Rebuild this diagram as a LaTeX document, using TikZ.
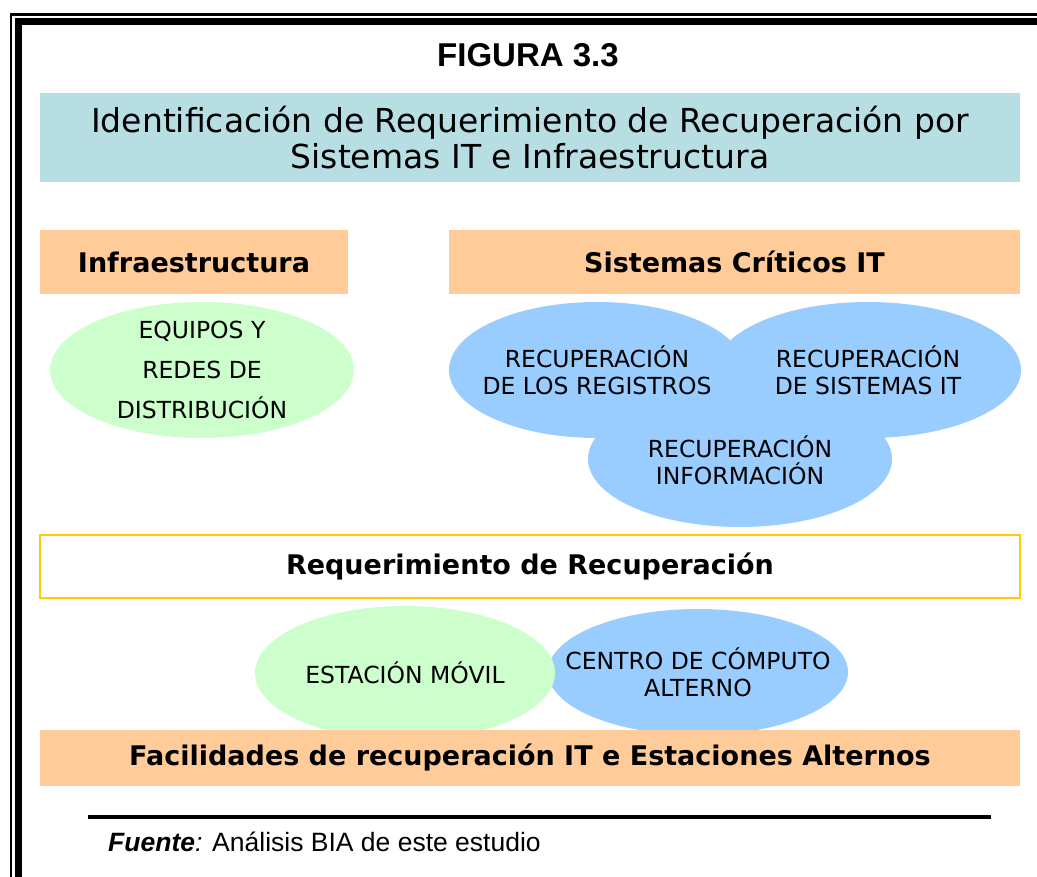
\documentclass[tikz,border=0pt]{standalone}
\usepackage{fontspec}
\setmainfont{DejaVu Sans}
\newfontfamily\arialfont{Liberation Sans}
\usetikzlibrary{shapes.geometric}
\definecolor{titlebg}{HTML}{B7DFE3}
\definecolor{peach}{HTML}{FFCC99}
\definecolor{lgreen}{HTML}{CCFFCC}
\definecolor{lblue}{HTML}{99CCFF}
\definecolor{gold}{HTML}{FFCC00}
\tikzset{
  band/.style={rectangle, inner sep=0pt, draw=none},
  hdr/.style={band, fill=peach, font=\fontsize{27}{32}\selectfont\bfseries},
  oval/.style={ellipse, inner sep=0pt, draw=none},
  goval/.style={oval, fill=lgreen},
  boval/.style={oval, fill=lblue},
  ovaltext/.style={inner sep=0pt, align=center, font=\fontsize{23.5}{27}\selectfont},
}
\begin{document}
\begin{tikzpicture}[x=1pt,y=-1pt]
\useasboundingbox (0,0) rectangle (1037,877);
% page border (thin + thick)
\fill[black] (9.5,13.3) rectangle (1037,16);
\fill[black] (9.5,13.3) rectangle (12,877);
\fill[black] (15,18.3) rectangle (1037,25.3);
\fill[black] (15,18.3) rectangle (22,877);
% title
\node[font=\arialfont\bfseries\fontsize{33}{38}\selectfont] (fig) at (528,55) {FIGURA 3.3};
\node[band, fill=titlebg, minimum width=980pt, minimum height=89pt, align=center,
      font=\fontsize{33}{36}\selectfont] (title) at (530,137.5)
  {Identificación de Requerimiento de Recuperación por\\Sistemas IT e Infraestructura};
% headers
\node[hdr, minimum width=308pt, minimum height=64pt] (infra) at (194,262) {Infraestructura};
\node[hdr, minimum width=571pt, minimum height=64pt] (sist) at (734.5,262) {Sistemas Críticos IT};
% ellipses top
\node[goval, minimum width=304pt, minimum height=136pt] (equipos) at (202,370) {};
\node[ovaltext, font=\fontsize{23.5}{40}\selectfont] (equiposT) at (equipos.center)
  {EQUIPOS Y\\REDES DE\\DISTRIBUCIÓN};
\node[boval, minimum width=296pt, minimum height=136pt] (reg) at (597,370) {};
\node[boval, minimum width=306pt, minimum height=136pt] (sis) at (868,370) {};
\node[boval, minimum width=304pt, minimum height=136pt] (inf) at (740,459) {};
\node[ovaltext] (regT) at (reg.center) {RECUPERACIÓN\\DE LOS REGISTROS};
\node[ovaltext] (sisT) at (sis.center) {RECUPERACIÓN\\DE SISTEMAS IT};
\node[ovaltext] (infT) at ([yshift=-1pt]inf.center) {RECUPERACIÓN\\INFORMACIÓN};
% requirement box
\node[band, draw=gold, line width=2.5pt, fill=white, minimum width=980pt, minimum height=63pt,
      font=\fontsize{27}{32}\selectfont\bfseries] (req) at (530,566.5) {Requerimiento de Recuperación};
% bottom ellipses
\node[boval, minimum width=300pt, minimum height=126pt] (centro) at (698,672) {};
\node[goval, minimum width=300pt, minimum height=134pt] (movil) at (405,673) {};
\node[ovaltext] (centroT) at (centro.center) {CENTRO DE CÓMPUTO\\ALTERNO};
\node[ovaltext] (movilT) at (movil.center) {ESTACIÓN MÓVIL};
% facilities band
\node[hdr, minimum width=980pt, minimum height=56pt] (fac) at (530,758)
  {Facilidades de recuperación IT e Estaciones Alternos};
% source line
\coordinate (ls) at (88,817);
\coordinate (le) at (991,817);
\draw[line width=4pt] (ls) -- (le);
\node[anchor=base west, inner sep=0pt, font=\arialfont\fontsize{26.5}{30}\selectfont] (src) at (108,851)
  {\textbf{\textit{Fuente}}\textit{:} Análisis BIA de este estudio};
\end{tikzpicture}
\end{document}
